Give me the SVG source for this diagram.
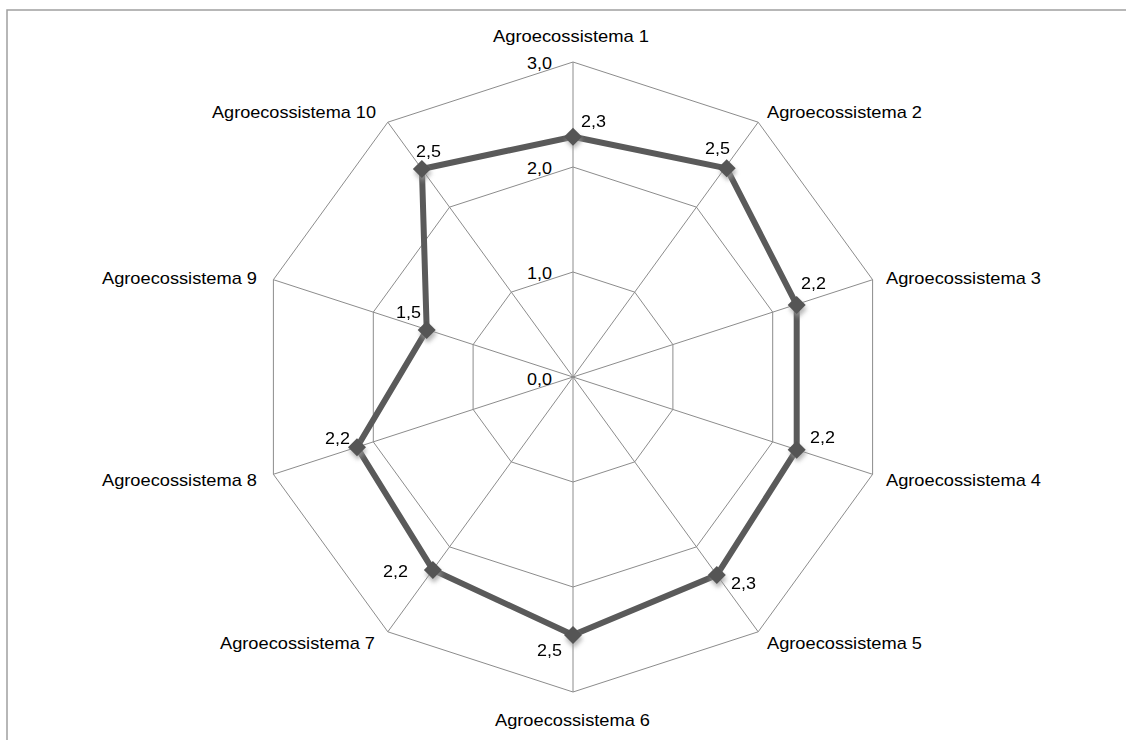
<svg xmlns="http://www.w3.org/2000/svg" width="1126" height="740" viewBox="0 0 1126 740">
<defs>
<style>
.grid{fill:none;stroke:#8c8c8c;stroke-width:1}
.ax{font-family:"Liberation Sans",Arial,sans-serif;font-size:17px;fill:#000}
.val{font-family:"Liberation Sans",Arial,sans-serif;font-size:17px;fill:#000}
.series{fill:none;stroke:#5a5a5a;stroke-width:6;stroke-linejoin:miter}
.mk{fill:#555555}
.sh{fill:#9a9a9a;opacity:0.7}
</style>
<filter id="blur" x="-1" y="-1" width="3" height="3"><feGaussianBlur stdDeviation="2"/></filter>
<symbol id="dia" overflow="visible"><path d="M0,-9 L9,0 L0,9 L-9,0 Z"/></symbol>
</defs>
<rect x="0" y="0" width="1126" height="740" fill="#fff"/>
<path d="M7,741 V10 H1127" fill="none" stroke="#a0a0a0" stroke-width="1.5"/>

<g id="grid">
<polygon class="grid" points="573,62 758.2,122.2 872.6,279.7 872.6,474.3 758.2,631.8 573,692 387.8,631.8 273.4,474.3 273.4,279.7 387.8,122.2"/>
<polygon class="grid" points="573,167 696.4,207.1 772.7,312.1 772.7,441.9 696.4,546.9 573,587 449.6,546.9 373.3,441.9 373.3,312.1 449.6,207.1"/>
<polygon class="grid" points="573,272 634.7,292.1 672.9,344.6 672.9,409.4 634.7,461.9 573,482 511.3,461.9 473.1,409.4 473.1,344.6 511.3,292.1"/>
<path class="grid" d="M573,377 L573,62 M573,377 L758.2,122.2 M573,377 L872.6,279.7 M573,377 L872.6,474.3 M573,377 L758.2,631.8 M573,377 L573,692 M573,377 L387.8,631.8 M573,377 L273.4,474.3 M573,377 L273.4,279.7 M573,377 L387.8,122.2"/>
</g>

<g id="ticks">
<text class="val" x="552" y="69" text-anchor="end" textLength="25" lengthAdjust="spacingAndGlyphs">3,0</text>
<text class="val" x="552" y="174" text-anchor="end" textLength="25" lengthAdjust="spacingAndGlyphs">2,0</text>
<text class="val" x="552" y="279" text-anchor="end" textLength="25" lengthAdjust="spacingAndGlyphs">1,0</text>
<text class="val" x="552" y="385" text-anchor="end" textLength="25" lengthAdjust="spacingAndGlyphs">0,0</text>
</g>

<g id="axis-labels">
<text id="a1" class="ax" x="493" y="42" textLength="156" lengthAdjust="spacingAndGlyphs">Agroecossistema 1</text>
<text id="a2" class="ax" x="767" y="118" textLength="155" lengthAdjust="spacingAndGlyphs">Agroecossistema 2</text>
<text id="a3" class="ax" x="886" y="284" textLength="155" lengthAdjust="spacingAndGlyphs">Agroecossistema 3</text>
<text id="a4" class="ax" x="886" y="486" textLength="155" lengthAdjust="spacingAndGlyphs">Agroecossistema 4</text>
<text id="a5" class="ax" x="767" y="649" textLength="155" lengthAdjust="spacingAndGlyphs">Agroecossistema 5</text>
<text id="a6" class="ax" x="495" y="726" textLength="155" lengthAdjust="spacingAndGlyphs">Agroecossistema 6</text>
<text id="a7" class="ax" x="220" y="649" textLength="155" lengthAdjust="spacingAndGlyphs">Agroecossistema 7</text>
<text id="a8" class="ax" x="102" y="486" textLength="155" lengthAdjust="spacingAndGlyphs">Agroecossistema 8</text>
<text id="a9" class="ax" x="102" y="284" textLength="155" lengthAdjust="spacingAndGlyphs">Agroecossistema 9</text>
<text id="a10" class="ax" x="212" y="118" textLength="164" lengthAdjust="spacingAndGlyphs">Agroecossistema 10</text>
</g>

<g id="series">
<polygon class="series" points="573,136.7 726.7,168.3 796.7,305 796.7,449.7 716.8,575 573,635 432.9,569.9 357,447.3 426.7,330 421.9,169"/>
<g filter="url(#blur)" class="sh">
<use href="#dia" x="574" y="140"/><use href="#dia" x="728" y="172"/><use href="#dia" x="798" y="309"/><use href="#dia" x="798" y="453"/><use href="#dia" x="718" y="579"/><use href="#dia" x="574" y="639"/><use href="#dia" x="434" y="574"/><use href="#dia" x="358" y="451"/><use href="#dia" x="428" y="334"/><use href="#dia" x="423" y="173"/>
</g>
<g class="mk">
<use href="#dia" x="573" y="136.7"/><use href="#dia" x="726.7" y="168.3"/><use href="#dia" x="796.7" y="305"/><use href="#dia" x="796.7" y="449.7"/><use href="#dia" x="716.8" y="575"/><use href="#dia" x="573" y="635"/><use href="#dia" x="432.9" y="569.9"/><use href="#dia" x="357" y="447.3"/><use href="#dia" x="426.7" y="330"/><use href="#dia" x="421.9" y="169"/>
</g>
</g>

<g id="values">
<text class="val" x="581" y="127" textLength="25" lengthAdjust="spacingAndGlyphs">2,3</text>
<text class="val" x="705" y="154" textLength="25" lengthAdjust="spacingAndGlyphs">2,5</text>
<text class="val" x="801" y="289" textLength="25" lengthAdjust="spacingAndGlyphs">2,2</text>
<text class="val" x="810" y="443" textLength="25" lengthAdjust="spacingAndGlyphs">2,2</text>
<text class="val" x="731" y="589" textLength="25" lengthAdjust="spacingAndGlyphs">2,3</text>
<text class="val" x="537" y="656" textLength="25" lengthAdjust="spacingAndGlyphs">2,5</text>
<text class="val" x="383" y="577" textLength="25" lengthAdjust="spacingAndGlyphs">2,2</text>
<text class="val" x="325" y="444" textLength="25" lengthAdjust="spacingAndGlyphs">2,2</text>
<text class="val" x="396" y="318" textLength="25" lengthAdjust="spacingAndGlyphs">1,5</text>
<text class="val" x="416" y="157" textLength="25" lengthAdjust="spacingAndGlyphs">2,5</text>
</g>
</svg>
